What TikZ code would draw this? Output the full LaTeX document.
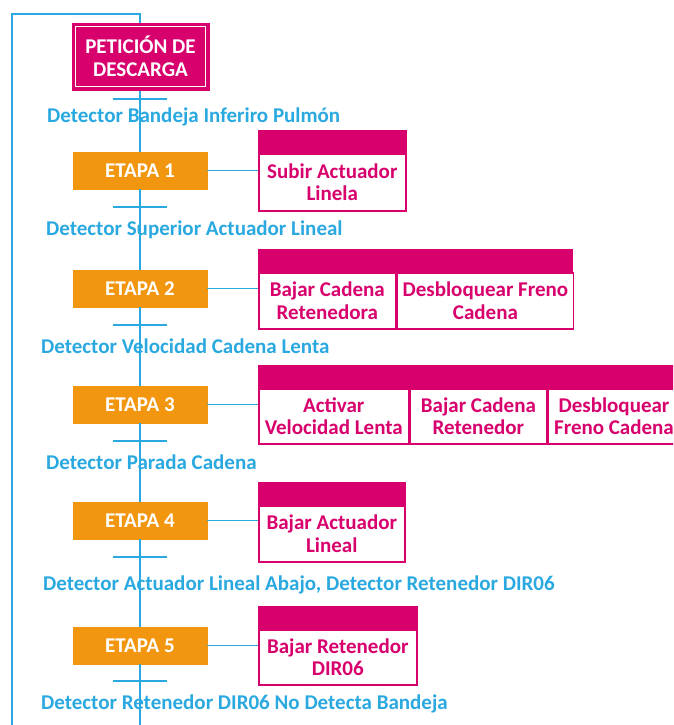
\documentclass[tikz,border=0pt]{standalone}
\usepackage{fontspec}
\setmainfont{Carlito}
\definecolor{grafpink}{HTML}{D8006D}
\definecolor{graforange}{HTML}{F3960F}
\definecolor{grafblue}{HTML}{2AA8E0}
\tikzset{
  base/.style={font=\fontsize{21}{22.5}\selectfont\bfseries, inner sep=0pt, align=center},
  stepbox/.style={base, fill=graforange, draw=graforange, text=white,
    minimum width=134pt, minimum height=37pt},
  initbox/.style={base, fill=grafpink, draw=grafpink, text=white,
    minimum width=137pt, minimum height=67pt},
  actcell/.style={base, draw=grafpink, line width=1.6pt, fill=white, text=grafpink,
    anchor=north west},
  acthead/.style={draw=grafpink, line width=1.6pt, fill=grafpink, inner sep=0pt,
    anchor=south west, minimum height=21pt},
  link/.style={draw=grafblue, line width=1.9pt},
  bar/.style={draw=grafblue, line width=2.4pt},
  cond/.style={base, text=grafblue, anchor=west},
}
\begin{document}
\begin{tikzpicture}[x=1pt,y=-1pt]
  \useasboundingbox (0,0) rectangle (673,725);
  \clip (0,0) rectangle (673,725);

  % loop back to the initial step
  \coordinate (loopbot) at (12,740);
  \coordinate (loopcorner) at (12,14);
  \coordinate (looptop) at (140,14);
  \coordinate (mainbot) at (140,740);

  % steps
  \node[stepbox] (s1) at (140,170.5) {ETAPA 1};
  \node[stepbox] (s2) at (140,288.5) {ETAPA 2};
  \node[stepbox] (s3) at (140,404.5) {ETAPA 3};
  \node[stepbox] (s4) at (140,520.5) {ETAPA 4};
  \node[stepbox] (s5) at (140,645.5) {ETAPA 5};

  % transition points
  \foreach \n/\y in {t1/99,t2/207,t3/325,t4/441,t5/557,t6/681}
    \coordinate (\n) at (140,\y);

  % vertical sequence, drawn before the initial step box
  \draw[link] (loopbot) -- (loopcorner) -- (looptop) -- (140,24);
  \draw[link] (140,90) -- (s1.north);
  \draw[link] (s1.south) -- (s2.north);
  \draw[link] (s2.south) -- (s3.north);
  \draw[link] (s3.south) -- (s4.north);
  \draw[link] (s4.south) -- (s5.north);
  \draw[link] (s5.south) -- (mainbot);

  % initial step with its inner white frame
  \node[initbox] (pet) at (140.5,56.5) {PETICIÓN DE\\DESCARGA};
  \draw[white, line width=1pt] ([shift={(3.5pt,-3.5pt)}]pet.north west)
    rectangle ([shift={(-3.5pt,3.5pt)}]pet.south east);

  \foreach \n in {t1,t2,t3,t4,t5,t6}
    \draw[bar] ([xshift=-27pt]\n) -- ([xshift=27pt]\n);

  % transition conditions
  \node[cond] (c1) at (47,117) {Detector Bandeja Inferiro Pulmón};
  \node[cond] (c2) at (46,230) {Detector Superior Actuador Lineal};
  \node[cond] (c3) at (41,346) {Detector Velocidad Cadena Lenta};
  \node[cond] (c4) at (46,462) {Detector Parada Cadena};
  \node[cond] (c5) at (43,585) {Detector Actuador Lineal Abajo, Detector Retenedor DIR06};
  \node[cond] (c6) at (41,704) {Detector Retenedor DIR06 No Detecta Bandeja};

  % actions of step 1
  \node[acthead, minimum width=147pt] (h1) at (258,153) {};
  \node[actcell, minimum width=147pt, minimum height=57pt] (a1) at (258,153) {Subir Actuador\\Linela};
  \draw[link] (s1.east) -- (s1.east -| a1.west);

  % actions of step 2
  \node[acthead, minimum width=313pt] (h2) at (258,272) {};
  \node[actcell, minimum width=137pt, minimum height=56pt] (a2a) at (258,272) {Bajar Cadena\\Retenedora};
  \node[actcell, minimum width=176pt, minimum height=56pt] (a2b) at (a2a.north east) {Desbloquear Freno\\Cadena};
  \draw[link] (s2.east) -- (s2.east -| a2a.west);

  % actions of step 3
  \node[acthead, minimum width=420pt] (h3) at (258,388) {};
  \node[actcell, minimum width=150pt, minimum height=55pt] (a3a) at (258,388) {Activar\\Velocidad Lenta};
  \node[actcell, minimum width=136pt, minimum height=55pt] (a3b) at (a3a.north east) {Bajar Cadena\\Retenedor};
  \node[actcell, minimum width=132pt, minimum height=55pt] (a3c) at (a3b.north east) {Desbloquear\\Freno Cadena};
  \draw[link] (s3.east) -- (s3.east -| a3a.west);

  % actions of step 4
  \node[acthead, minimum width=146pt] (h4) at (258,505) {};
  \node[actcell, minimum width=146pt, minimum height=56pt] (a4) at (258,505) {Bajar Actuador\\Lineal};
  \draw[link] (s4.east) -- (s4.east -| a4.west);

  % actions of step 5
  \node[acthead, minimum width=158pt] (h5) at (258,629) {};
  \node[actcell, minimum width=158pt, minimum height=55pt] (a5) at (258,629) {Bajar Retenedor\\DIR06};
  \draw[link] (s5.east) -- (s5.east -| a5.west);
\end{tikzpicture}
\end{document}
